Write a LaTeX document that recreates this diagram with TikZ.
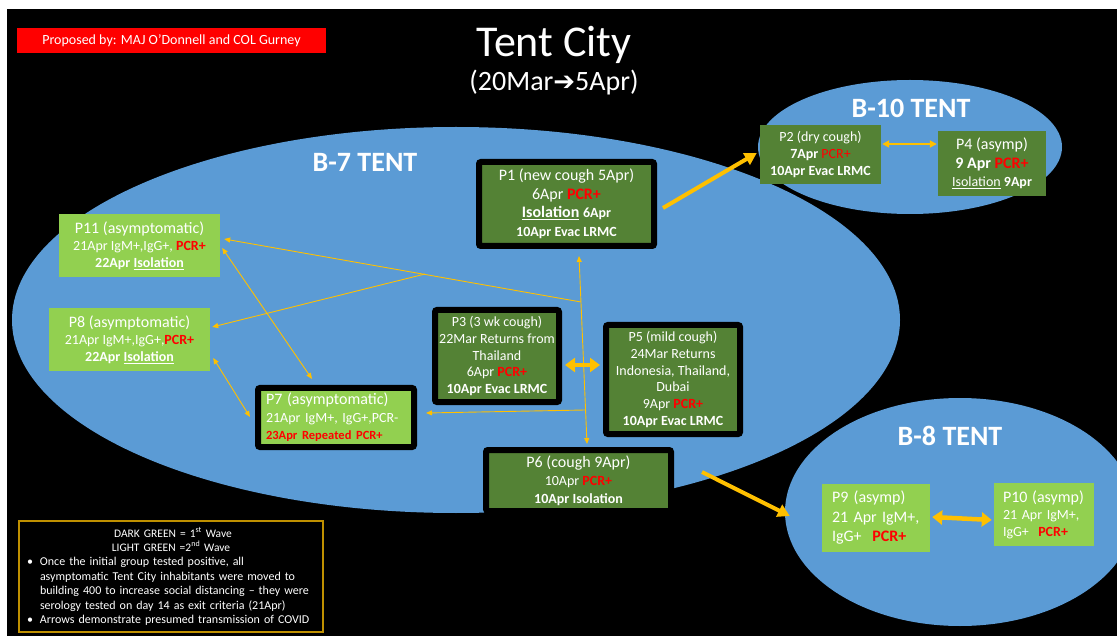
\documentclass[tikz,border=0pt]{standalone}
\usepackage{fontspec}
\setmainfont{Carlito}
\newfontfamily\djv{DejaVu Sans}
\usetikzlibrary{arrows.meta,calc}
\definecolor{bluefill}{HTML}{5B9BD5}
\definecolor{dkgreen}{HTML}{548235}
\definecolor{ltgreen}{HTML}{92D050}
\definecolor{arrorange}{HTML}{FFC000}
\definecolor{pcrred}{HTML}{FF0000}
\definecolor{legendgold}{HTML}{BF9000}
\newcommand\fs[2]{\fontsize{#1}{#2}\selectfont}
\newcommand\pcr{\textcolor{pcrred}{\textbf{PCR+}}}
\newcommand\legbullet{\leavevmode\llap{•\hspace{7pt}}}
\tikzset{
  bordered/.style={draw=black, line width=6pt, rounded corners=2pt, text=white, inner sep=0pt, align=center},
  flatbox/.style={text=white, inner sep=0pt, align=center},
  dk/.style={fill=dkgreen},
  lt/.style={fill=ltgreen},
  tentlabel/.style={text=white, font=\fs{28}{30}\bfseries},
  thinarr/.style={draw=arrorange, line width=0.9pt},
  thinone/.style={thinarr, -{Triangle[length=6pt,width=5pt]}},
  thinboth/.style={thinarr, {Triangle[length=6pt,width=5pt]}-{Triangle[length=6pt,width=5pt]}},
  medboth/.style={draw=arrorange, line width=2pt, {Triangle[length=7pt,width=7pt]}-{Triangle[length=7pt,width=7pt]}},
  thickone/.style={draw=arrorange, line width=4pt, -{Triangle[length=12pt,width=13pt]}},
  thickboth/.style={draw=arrorange, line width=4.5pt, {Triangle[length=10pt,width=14pt]}-{Triangle[length=10pt,width=14pt]}},
}
\begin{document}
\begin{tikzpicture}[x=1pt,y=-1pt]
\useasboundingbox (0,0) rectangle (1117,636);
\fill[white] (0,0) rectangle (1117,636);
\fill[black] (7,9) rectangle (1117,636);

% tents
\begin{scope}
\clip (7,9) rectangle (1117,636);
\fill[bluefill] (456,320) ellipse [x radius=444pt, y radius=193pt];
\fill[bluefill] (910,147) ellipse [x radius=152pt, y radius=67pt];
\fill[bluefill] (960,512) ellipse [x radius=175pt, y radius=114pt];
\end{scope}

\node[tentlabel] (b7) at (365,162) {B-7 TENT};
\node[tentlabel] (b10) at (911,108) {B-10 TENT};
\node[tentlabel] (b8) at (950,436) {B-8 TENT};

% header
\node[fill=pcrred, text=white, minimum width=309pt, minimum height=25pt, inner sep=0pt, font=\fs{14}{16}] (prop) at (171.5,40.5) {Proposed by: MAJ O’Donnell and COL Gurney};
\node[text=white, font=\fs{44}{46}] (title) at (554,45) {Tent City};
\node[text=white, font=\fs{28}{30}] (dates) at (554,83) {(20Mar{\djv\fs{26}{30}➔}5Apr)};

% patients
\node[bordered, dk, minimum width=175pt, minimum height=84pt, font=\fs{16}{18.5}] (p1) at (566.5,204)
  {P1 (new cough 5Apr)\\ 6Apr \pcr\\ \textbf{\underline{Isolation} {\fs{14}{18.5}6Apr}}\\ {\fs{14}{18.5}\bfseries 10Apr Evac LRMC}};
\node[flatbox, dk, minimum width=121pt, minimum height=59pt, font=\fs{14}{17}] (p2) at (820.5,154.5)
  {P2 (dry cough)\\ \textbf{7Apr} \textcolor{pcrred}{PCR+}\\ \textbf{10Apr Evac LRMC}};
\node[flatbox, dk, minimum width=108pt, minimum height=65pt, font=\fs{16}{18.5}] (p4) at (992,163.5)
  {P4 (asymp)\\ \textbf{9 Apr \textcolor{pcrred}{PCR+}}\\ {\fs{14}{18.5}\underline{Isolation} \textbf{9Apr}}};
\node[bordered, dk, minimum width=124pt, minimum height=92pt, font=\fs{14}{16.75}] (p3) at (497,356)
  {P3 (3 wk cough)\\ 22Mar Returns from\\ Thailand\\ 6Apr \pcr\\ \textbf{10Apr Evac LRMC}};
\node[bordered, dk, minimum width=134pt, minimum height=109pt, font=\fs{14}{16.8}] (p5) at (673,379.5)
  {P5 (mild cough)\\ 24Mar Returns\\ Indonesia, Thailand,\\ Dubai\\ 9Apr \pcr\\ \textbf{10Apr Evac LRMC}};
\node[bordered, dk, minimum width=185pt, minimum height=61pt, font=\fs{14}{18}] (p6) at (578.5,480.5)
  {{\fs{16}{18}P6 (cough 9Apr)}\\ 10Apr \pcr\\ \textbf{10Apr Isolation}};
\node[flatbox, lt, minimum width=161pt, minimum height=63pt, font=\fs{14}{17}] (p11) at (139.5,245.5)
  {{\fs{16}{17}P11 (asymptomatic)}\\ 21Apr IgM+,IgG+, \pcr\\ \textbf{22Apr \underline{Isolation}}};
\node[flatbox, lt, minimum width=161pt, minimum height=63pt, font=\fs{14}{17}] (p8) at (129.5,339.5)
  {{\fs{16}{17}P8 (asymptomatic)}\\ 21Apr IgM+,IgG+,\pcr\\ \textbf{22Apr \underline{Isolation}}};
\node[bordered, lt, align=left, text width=140pt, inner xsep=8pt, minimum height=59pt, font=\fs{14}{17.5}] (p7) at (336,417.5)
  {{\fs{16}{17.5}P7 (asymptomatic)}\\ 21Apr IgM+, IgG+,PCR-\\ {\fs{12.5}{17.5}\bfseries\color{pcrred}23Apr Repeated PCR+}};
\node[flatbox, lt, align=left, text width=88pt, inner xsep=10pt, minimum height=68pt, font=\fs{16}{19.5}] (p9) at (876,518)
  {P9 (asymp)\\ 21 Apr IgM+,\\ IgG+\ \ \pcr};
\node[flatbox, lt, align=left, text width=82pt, inner xsep=9pt, minimum height=63pt, font=\fs{14}{17}] (p10) at (1044,514.5)
  {{\fs{16}{17}P10 (asymp)}\\ 21 Apr IgM+,\\ IgG+\ \ \pcr};

% legend
\node[draw=legendgold, line width=1.2pt, text=white, inner xsep=2pt, text width=300pt, minimum height=111pt, align=left, font=\fs{12}{14.5}] (leg) at (171,576.5)
  {{\centering\fs{11.5}{14} DARK GREEN = 1\textsuperscript{st} Wave\\ LIGHT GREEN =2\textsuperscript{nd} Wave\par}
   \leftskip=19pt
   \legbullet Once the initial group tested positive, all\\ asymptomatic Tent City inhabitants were moved to\\ building 400 to increase social distancing – they were\\ serology tested on day 14 as exit criteria (21Apr)\par
   \legbullet Arrows demonstrate presumed transmission of COVID\par};

% thick arrows
\draw[thickone] ($(p1.east)+(6,4)$) -- ($(p2.west)+(-3,-1.5)$);
\draw[thickone] ($(p6.east)+(28,-8.5)$) -- ($(p9.west)+(-32,-2)$);
\draw[thickboth] ($(p3.east)+(3,9)$) -- ($(p5.west)+(-3,-14.5)$);
\draw[thickboth] ($(p9.east)+(2,-1)$) -- ($(p10.west)+(-2,5.5)$);
\draw[medboth] ($(p2.east)+(1,-10.5)$) -- ($(p4.west)+(-1,-19.5)$);

% thin transmission arrows
\coordinate (j1) at (581,302);
\coordinate (j2) at (425,274);
\coordinate (j3) at (585,410);
\draw[thinboth] ($(p1.south)+(12.5,7)$) -- ($(p6.north)+(8.5,-3)$);
\draw[thinone] (j1) -- ($(p11.east)+(4,-6.5)$);
\draw[thinone] (j2) -- ($(p8.east)+(2,-12.5)$);
\draw[thinone] (j3) -- ($(p7.east)+(9,-4.5)$);
\draw[thinboth] ($(p11.east)+(2,2.5)$) -- ($(p7.north)+(-24,-6)$);
\draw[thinboth] ($(p8.east)+(3,18.5)$) -- ($(p7.west)+(-5,-0.5)$);
\end{tikzpicture}
\end{document}
